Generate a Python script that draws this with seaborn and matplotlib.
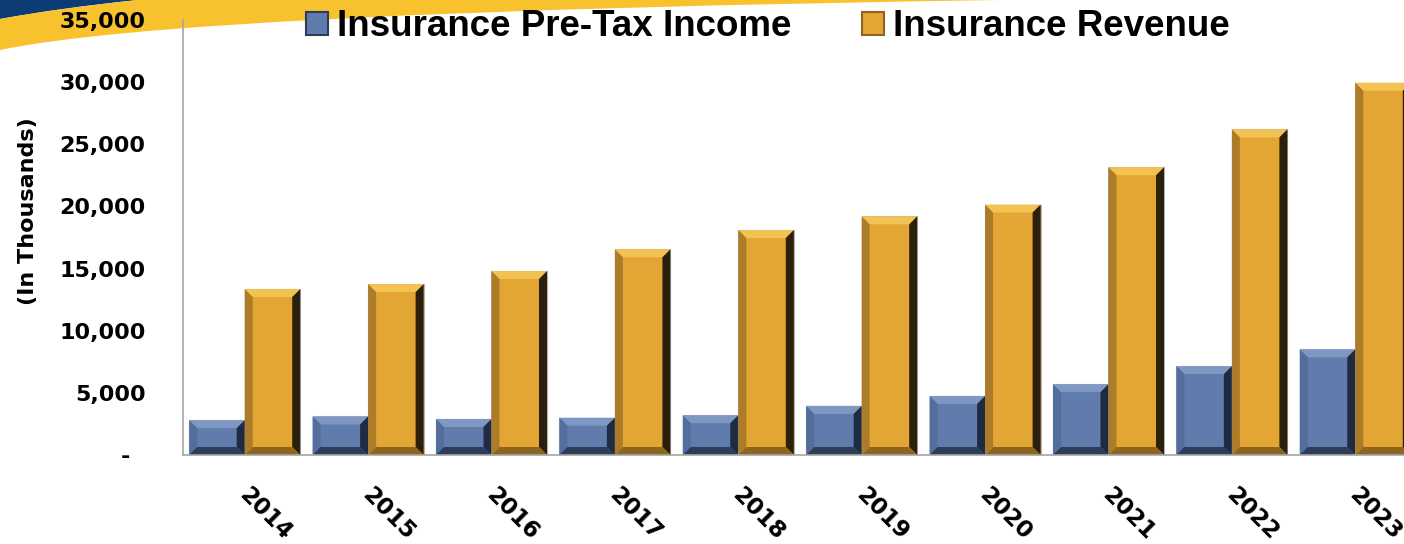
import numpy as np
import pandas as pd
import matplotlib
matplotlib.use("Agg")
import matplotlib.pyplot as plt
import seaborn as sns
from matplotlib.patches import Polygon, PathPatch, Patch
from matplotlib.path import Path
from matplotlib.ticker import FuncFormatter, MultipleLocator
from matplotlib.transforms import ScaledTranslation

years = ["2014", "2015", "2016", "2017", "2018", "2019", "2020", "2021", "2022", "2023"]
pretax_income = [2800, 3100, 2900, 3000, 3200, 3950, 4750, 5700, 7150, 8500]
revenue = [13350, 13750, 14800, 16550, 18100, 19200, 20150, 23150, 26200, 29950]
series_names = ["Insurance Pre-Tax Income", "Insurance Revenue"]

df = pd.DataFrame({
    "year": years * 2,
    "value": pretax_income + revenue,
    "series": [series_names[0]] * len(years) + [series_names[1]] * len(years),
})

blue = "#5F7CAD"
gold = "#E3A533"
# bevel shades per series: top, left, right, bottom
bevels = [
    ["#7F98C3", "#536E9D", "#1F2B42", "#2E3C58"],
    ["#F2C253", "#AC7C2B", "#2A200C", "#8C6621"],
]

sns.set_style("white")
plt.rcParams["font.family"] = ["DejaVu Sans"]
plt.rcParams["text.color"] = "black"
plt.rcParams["xtick.color"] = "black"
plt.rcParams["ytick.color"] = "black"
plt.rcParams["axes.labelcolor"] = "black"

W, H = 1404, 544
fig = plt.figure(figsize=(W / 100, H / 100), dpi=100)

# corner swoosh decoration
def fpt(x, y):
    return (x / W, 1 - y / H)

navy_path = Path([fpt(0, 0), fpt(0, 19), fpt(60, 8), fpt(138, 0), fpt(0, 0)],
                 [Path.MOVETO, Path.LINETO, Path.CURVE3, Path.CURVE3, Path.CLOSEPOLY])
fig.patches.append(PathPatch(navy_path, transform=fig.transFigure, facecolor="#0C3B76",
                             edgecolor="none", zorder=-2))
yel_path = Path([fpt(0, 19), fpt(0, 50), fpt(180, 12), fpt(1000, 0), fpt(138, 0),
                 fpt(60, 8), fpt(0, 19)],
                [Path.MOVETO, Path.LINETO, Path.CURVE3, Path.CURVE3, Path.LINETO,
                 Path.CURVE3, Path.CURVE3])
fig.patches.append(PathPatch(yel_path, transform=fig.transFigure, facecolor="#F8C22F",
                             edgecolor="none", zorder=-2))

ax = fig.add_axes([183 / W, 89 / H, (W - 183) / W, 435 / H])
ax.patch.set_alpha(0)

sns.barplot(data=df, x="year", y="value", hue="series", order=years,
            hue_order=series_names, palette=[blue, gold], saturation=1,
            width=0.9, gap=0, edgecolor="#B5B5B5", linewidth=0.8,
            legend=False, ax=ax, zorder=2)

ax.set_xlim(-0.5, 9.395)
ax.set_ylim(0, 35000)
ax.yaxis.set_major_locator(MultipleLocator(5000))
ax.yaxis.set_major_formatter(FuncFormatter(lambda v, p: "-  " if v == 0 else f"{v:,.0f}"))

# bevel overlays built from each bar's own geometry
px_x = (ax.get_xlim()[1] - ax.get_xlim()[0]) / (W - 183)
px_y = 35000 / 435
b = 8
dx, dy = b * px_x, b * px_y
for cont, shades in zip(ax.containers, bevels):
    for bar in cont:
        x0, w, h = bar.get_x(), bar.get_width(), bar.get_height()
        x1, y0, y1 = x0 + w, 0, h
        polys = [
            [(x0, y1), (x1, y1), (x1 - dx, y1 - dy), (x0 + dx, y1 - dy)],
            [(x0, y0), (x0, y1), (x0 + dx, y1 - dy), (x0 + dx, y0 + dy)],
            [(x1, y0), (x1, y1), (x1 - dx, y1 - dy), (x1 - dx, y0 + dy)],
            [(x0, y0), (x1, y0), (x1 - dx, y0 + dy), (x0 + dx, y0 + dy)],
        ]
        for poly, c in zip(polys, shades):
            ax.add_patch(Polygon(poly, closed=True, facecolor=c, edgecolor="none", zorder=3))

for side in ["top", "right"]:
    ax.spines[side].set_visible(False)
for side in ["left", "bottom"]:
    ax.spines[side].set_color("#A6A6A6")
    ax.spines[side].set_linewidth(1.2)
    ax.spines[side].set_zorder(4)

ax.tick_params(axis="y", length=7.5, width=1.2, color="#A6A6A6", labelcolor="black",
               pad=19.5, labelsize=16)
ax.tick_params(axis="x", length=0, pad=20, labelsize=16.5, labelcolor="black")
for lab in ax.get_yticklabels():
    lab.set_fontweight("bold")
shift = ScaledTranslation(6 / 100, 0, fig.dpi_scale_trans)
for lab in ax.get_xticklabels():
    lab.set_fontweight("bold")
    lab.set_rotation(-45)
    lab.set_ha("left")
    lab.set_va("top")
    lab.set_rotation_mode("anchor")
    lab.set_transform(lab.get_transform() + shift)

ax.set_xlabel("")
ax.set_ylabel("(In Thousands)", fontsize=16, fontweight="bold", color="black")
ax.yaxis.set_label_coords(-0.119, 0.56)

handles = [Patch(facecolor=blue, edgecolor="#2E3C58", linewidth=1.5),
           Patch(facecolor=gold, edgecolor="#8C6621", linewidth=1.5)]
fig.legend(handles, series_names, loc="center", bbox_to_anchor=(768 / W, 1 - 27 / H),
           ncol=2, frameon=False, handlelength=0.6, handleheight=0.6,
           handletextpad=0.25, columnspacing=1.9, labelcolor="black",
           prop={"family": "Liberation Sans", "weight": "bold", "size": 26.5})

fig.savefig("out.png", dpi=100)
